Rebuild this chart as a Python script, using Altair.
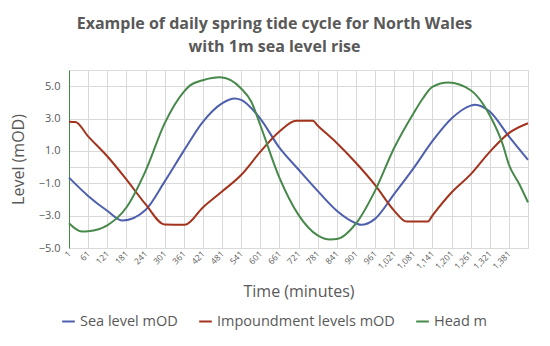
import altair as alt
import pandas as pd

# Sea level (mOD)
sea_t = [1, 61, 121, 169, 241, 301, 361, 421, 481, 521, 541, 601, 661, 721, 781, 841, 901, 918, 961, 1021, 1081, 1141, 1201, 1261, 1275, 1321, 1381, 1441]
sea_v = [-0.65, -1.78, -2.7, -3.3, -2.65, -0.9, 1.0, 2.8, 3.94, 4.24, 4.15, 3.0, 1.2, -0.15, -1.47, -2.7, -3.47, -3.57, -3.2, -1.67, -0.1, 1.6, 3.0, 3.8, 3.86, 3.43, 1.9, 0.45]

# Impoundment levels (mOD)
imp_t = [1, 21, 61, 121, 181, 241, 301, 364, 421, 481, 541, 601, 661, 714, 766, 781, 841, 901, 961, 1021, 1060, 1127, 1141, 1201, 1261, 1321, 1381, 1441]
imp_v = [2.8, 2.78, 1.9, 0.67, -0.76, -2.29, -3.55, -3.57, -2.49, -1.51, -0.49, 0.94, 2.2, 2.86, 2.86, 2.57, 1.49, 0.27, -1.1, -2.69, -3.37, -3.37, -3.0, -1.57, -0.45, 0.94, 2.1, 2.71]

# Head (m)
head_t = [1, 41, 61, 121, 181, 241, 301, 361, 381, 421, 475, 541, 573, 601, 661, 721, 781, 821, 841, 901, 961, 1021, 1081, 1111, 1141, 1191, 1261, 1302, 1321, 1362, 1381, 1414, 1441]
head_v = [-3.47, -3.98, -3.96, -3.6, -2.5, -0.25, 2.7, 4.65, 5.05, 5.37, 5.55, 4.86, 4.04, 2.6, -0.65, -2.95, -4.22, -4.47, -4.45, -3.5, -1.47, 1.18, 3.3, 4.24, 4.96, 5.23, 4.75, 3.84, 3.2, 1.39, 0.16, -1.06, -2.18]

series_names = ["Sea level mOD", "Impoundment levels mOD", "Head m"]
series_colors = ["#4e5fae", "#a2331c", "#47894a"]

x_ticks = list(range(1, 1382, 60))
x_grid = x_ticks + [1441]
y_grid = [-5, -3, -1, 0, 1, 3, 5]

rows = []
for name, ts, vs in zip(series_names, [sea_t, imp_t, head_t], [sea_v, imp_v, head_v]):
    for t, v in zip(ts, vs):
        rows.append({"minute": t, "level": v, "series": name})
df = pd.DataFrame(rows)

font = "Open Sans"
grey = "#595959"

chart = alt.Chart(df).mark_line(strokeWidth=2, interpolate="monotone").encode(
    x=alt.X("minute:Q",
            scale=alt.Scale(domain=[1, 1441], nice=False, zero=False),
            axis=alt.Axis(values=x_grid, labelAngle=-45, labelAlign="right", labelBaseline="middle",
                          labelExpr="datum.value == 1441 ? '' : format(datum.value, ',')",
                          labelFontSize=8.5, labelColor=grey, labelFont=font, labelPadding=4,
                          ticks=False, domain=False, gridColor="#d9d9d9", gridWidth=1,
                          title="Time (minutes)", titleFontSize=16, titleFont=font,
                          titleColor=grey, titleFontWeight="normal", titlePadding=13,
                          labelOverlap=False)),
    y=alt.Y("level:Q",
            scale=alt.Scale(domain=[-5, 6], nice=False),
            axis=alt.Axis(values=y_grid,
                          labelExpr="datum.value == 0 ? '' : format(datum.value, '.1f')",
                          labelFontSize=11, labelColor=grey,
                          labelFont=font, labelPadding=9, ticks=False, domainColor="#47894a",
                          domainWidth=1, gridColor="#d9d9d9", gridWidth=1, labelOverlap=False,
                          title="Level (mOD)", titleFontSize=16, titleFont=font, titleColor=grey,
                          titleFontWeight="normal", titlePadding=12)),
    color=alt.Color("series:N",
                    scale=alt.Scale(domain=series_names, range=series_colors),
                    legend=alt.Legend(orient="none", legendX=-8, legendY=244, direction="horizontal",
                                      title=None, symbolType="stroke", symbolStrokeWidth=2,
                                      symbolSize=160, labelFontSize=14.5, labelFont=font,
                                      labelColor=grey, columnPadding=17, labelOffset=4,
                                      labelLimit=400)),
    order=alt.Order("minute:Q"),
).properties(
    width=459, height=178,
    title=alt.TitleParams(["Example of daily spring tide cycle for North Wales", "with 1m sea level rise"],
                          fontSize=16, font=font, fontWeight="bold", color=grey, anchor="middle",
                          offset=15, lineHeight=23, dx=-24),
    padding={"left": 61, "top": 62, "right": 14, "bottom": 94},
    autosize=alt.AutoSizeParams(type="none"),
).configure_view(stroke=None).configure(background="white")

chart.save("out.html", embed_options={"renderer": "svg", "actions": False})
